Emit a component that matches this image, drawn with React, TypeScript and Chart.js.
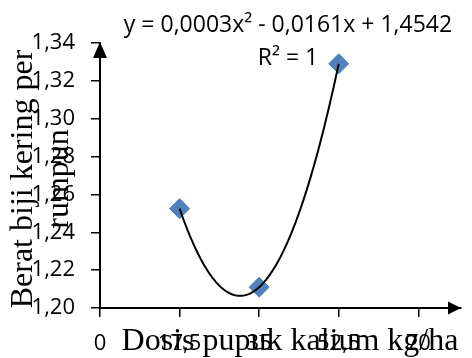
import { useEffect, useRef } from 'react';
import { Chart, registerables } from 'chart.js';

Chart.register(...registerables);

// ---- data ----
const doses = [17.5, 35, 52.5];
const weights = [1.2525, 1.211, 1.329];
const xTickValues = [0, 17.5, 35, 52.5, 70];
const yTickValues = [1.2, 1.22, 1.24, 1.26, 1.28, 1.3, 1.32, 1.34];
const xTitle = 'Dosis pupuk kalium kg/ha';
const yTitleLines = ['Berat biji kering per', 'rumpun'];
const equationText = 'y = 0,0003x² - 0,0161x + 1,4542';
const r2Text = 'R² = 1';

const SANS = '"Open Sans", "Liberation Sans", sans-serif';
const SERIF = '"Liberation Serif", "DejaVu Serif", serif';

function fitQuadratic(xs: number[], ys: number[]): number[] {
  // least-squares normal equations for y = a x^2 + b x + c
  let s0 = 0, s1 = 0, s2 = 0, s3 = 0, s4 = 0, t0 = 0, t1 = 0, t2 = 0;
  for (let i = 0; i < xs.length; i++) {
    const x = xs[i], y = ys[i];
    s0 += 1; s1 += x; s2 += x * x; s3 += x * x * x; s4 += x * x * x * x;
    t0 += y; t1 += x * y; t2 += x * x * y;
  }
  const M = [
    [s4, s3, s2, t2],
    [s3, s2, s1, t1],
    [s2, s1, s0, t0],
  ];
  for (let col = 0; col < 3; col++) {
    let piv = col;
    for (let r = col + 1; r < 3; r++) if (Math.abs(M[r][col]) > Math.abs(M[piv][col])) piv = r;
    [M[col], M[piv]] = [M[piv], M[col]];
    for (let r = 0; r < 3; r++) {
      if (r === col) continue;
      const f = M[r][col] / M[col][col];
      for (let k = col; k < 4; k++) M[r][k] -= f * M[col][k];
    }
  }
  return [M[0][3] / M[0][0], M[1][3] / M[1][1], M[2][3] / M[2][2]];
}

const overlayPlugin = {
  id: 'overlay',
  afterDatasetsDraw(chart: any) {
    const { ctx, scales } = chart;
    const xs = scales.x, ys = scales.y;
    const [a, b, c] = fitQuadratic(doses, weights);
    const x0 = Math.min(...doses), x1 = Math.max(...doses);
    const n = 120;
    ctx.save();
    ctx.beginPath();
    for (let i = 0; i <= n; i++) {
      const xv = x0 + ((x1 - x0) * i) / n;
      const yv = a * xv * xv + b * xv + c;
      const px = xs.getPixelForValue(xv);
      const py = ys.getPixelForValue(yv);
      if (i === 0) ctx.moveTo(px, py); else ctx.lineTo(px, py);
    }
    ctx.strokeStyle = '#000';
    ctx.lineWidth = 2;
    ctx.lineJoin = 'round';
    ctx.stroke();
    ctx.restore();
  },
  afterDraw(chart: any) {
    const { ctx, chartArea } = chart;
    const { left, right, top, bottom } = chartArea;
    ctx.save();
    ctx.fillStyle = '#000';
    // y arrow
    ctx.beginPath();
    ctx.moveTo(left, top - 1);
    ctx.lineTo(left - 7, top + 15);
    ctx.lineTo(left + 7, top + 15);
    ctx.closePath();
    ctx.fill();
    // x arrow
    ctx.beginPath();
    ctx.moveTo(right, bottom);
    ctx.lineTo(right - 13, bottom - 6.5);
    ctx.lineTo(right - 13, bottom + 6.5);
    ctx.closePath();
    ctx.fill();

    // equation
    ctx.font = `23px ${SANS}`;
    ctx.textAlign = 'center';
    ctx.textBaseline = 'alphabetic';
    ctx.fillText(equationText, 288, 32);
    ctx.fillText(r2Text, 288, 65);

    // x title
    ctx.font = `32px ${SERIF}`;
    ctx.fillText(xTitle, 290, 350);

    // y title
    ctx.translate(32, 179);
    ctx.rotate(-Math.PI / 2);
    ctx.fillText(yTitleLines[0], 0, 0);
    ctx.fillText(yTitleLines[1], 0, 36);
    ctx.restore();
  },
};

export default function App() {
  const ref = useRef<HTMLCanvasElement | null>(null);
  useEffect(() => {
    document.body.style.margin = '0';
    const canvas = ref.current;
    if (!canvas) return;
    const chart = new Chart(canvas, {
      type: 'scatter',
      data: {
        datasets: [
          {
            data: doses.map((d, i) => ({ x: d, y: weights[i] })),
            backgroundColor: '#4F81BD',
            borderColor: '#4F81BD',
            borderWidth: 1,
            pointStyle: 'rectRot',
            pointRadius: 10,
            pointHoverRadius: 10,
            showLine: false,
          },
        ],
      },
      options: {
        responsive: false,
        animation: false,
        devicePixelRatio: 1,
        layout: { padding: { top: 43, right: 0, left: 0, bottom: 0 } },
        plugins: { legend: { display: false }, tooltip: { enabled: false } },
        scales: {
          x: {
            type: 'linear',
            min: 0,
            max: 79.4,
            afterBuildTicks: (scale: any) => {
              scale.ticks = xTickValues.map((v) => ({ value: v }));
            },
            afterFit: (scale: any) => {
              scale.height = 50;
            },
            ticks: {
              color: '#000',
              font: { family: SANS, size: 22 },
              padding: 14,
              maxRotation: 0,
              autoSkip: false,
              callback: (v: any) => String(v).replace('.', ','),
            },
            grid: { drawOnChartArea: false, color: '#000', tickLength: 9, lineWidth: 1.5 },
            border: { color: '#000', width: 2 },
          },
          y: {
            type: 'linear',
            min: 1.2,
            max: 1.34,
            afterBuildTicks: (scale: any) => {
              scale.ticks = yTickValues.map((v) => ({ value: v }));
            },
            afterFit: (scale: any) => {
              scale.width = 100;
            },
            ticks: {
              color: '#000',
              font: { family: SANS, size: 22 },
              padding: 16,
              autoSkip: false,
              callback: (v: any) => Number(v).toFixed(2).replace('.', ','),
            },
            grid: { drawOnChartArea: false, color: '#000', tickLength: 9, lineWidth: 1.5 },
            border: { color: '#000', width: 2 },
          },
        },
      },
      plugins: [overlayPlugin],
    });
    return () => chart.destroy();
  }, []);
  return (
    <div style={{ width: 472, height: 358 }}>
      <canvas ref={ref} width={472} height={358} />
    </div>
  );
}
